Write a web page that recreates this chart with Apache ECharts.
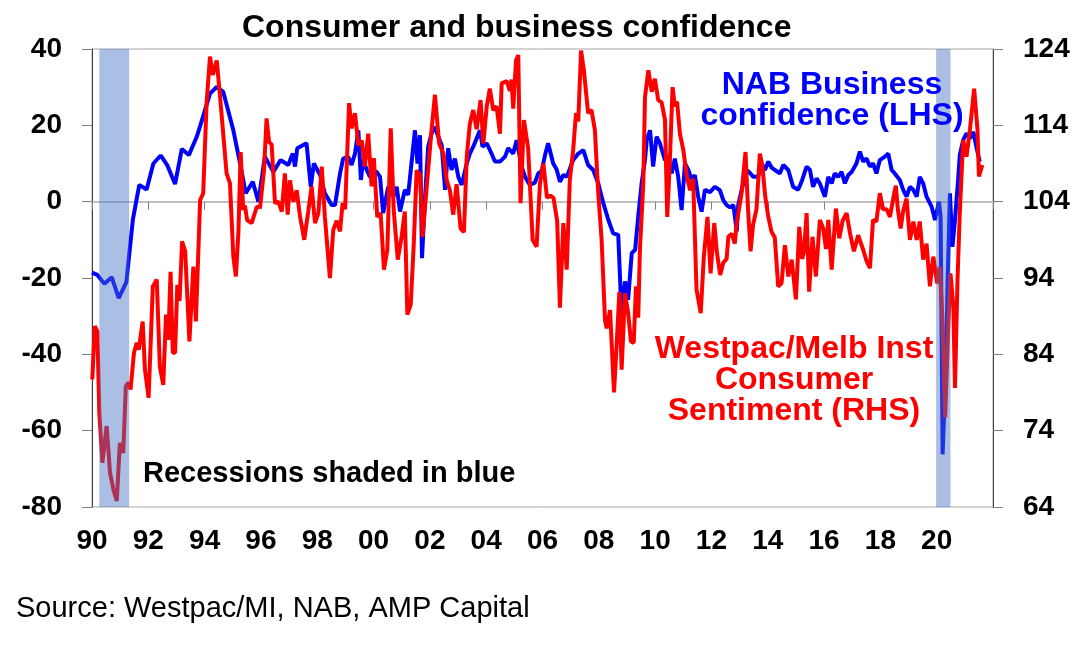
<!DOCTYPE html>
<html>
<head>
<meta charset="utf-8">
<title>Consumer and business confidence</title>
<script src="https://cdn.jsdelivr.net/npm/echarts@6/dist/echarts.min.js"></script>
<style>
  html, body { margin: 0; padding: 0; background: #fff; }
  #container { width: 1082px; height: 645px; }
</style>
</head>
<body>
<div id="container"></div>
<script>
// NAB business confidence (LHS)
var nabYears = [1990.00,1990.19,1990.44,1990.70,1990.95,1991.22,1991.45,1991.68,1991.94,1992.18,1992.44,1992.67,1992.95,1993.19,1993.44,1993.72,1993.95,1994.19,1994.43,1994.66,1995.02,1995.26,1995.46,1995.71,1995.91,1996.14,1996.44,1996.70,1996.97,1997.13,1997.21,1997.29,1997.62,1997.77,1997.88,1998.10,1998.27,1998.51,1998.63,1998.81,1998.92,1999.10,1999.22,1999.34,1999.46,1999.55,1999.63,1999.76,1999.87,2000.09,2000.23,2000.34,2000.52,2000.70,2000.82,2000.94,2001.11,2001.23,2001.47,2001.56,2001.65,2001.72,2001.83,2001.94,2002.06,2002.18,2002.30,2002.42,2002.54,2002.65,2002.77,2002.89,2003.01,2003.13,2003.31,2003.42,2003.54,2003.78,2003.87,2004.02,2004.19,2004.31,2004.49,2004.67,2004.78,2004.96,2005.08,2005.26,2005.38,2005.55,2005.73,2005.85,2005.97,2006.09,2006.20,2006.38,2006.50,2006.62,2006.74,2006.86,2007.09,2007.27,2007.45,2007.62,2007.80,2007.98,2008.16,2008.34,2008.51,2008.69,2008.81,2008.93,2009.04,2009.17,2009.29,2009.40,2009.52,2009.64,2009.70,2009.82,2009.93,2010.05,2010.17,2010.35,2010.47,2010.59,2010.70,2010.82,2010.94,2011.06,2011.18,2011.30,2011.41,2011.53,2011.65,2011.77,2011.95,2012.12,2012.30,2012.42,2012.54,2012.66,2012.78,2012.90,2012.95,2013.07,2013.25,2013.37,2013.48,2013.66,2013.78,2013.90,2014.02,2014.13,2014.25,2014.43,2014.55,2014.73,2014.90,2015.08,2015.20,2015.38,2015.50,2015.61,2015.73,2015.85,2016.03,2016.15,2016.27,2016.38,2016.50,2016.62,2016.74,2016.86,2016.98,2017.15,2017.27,2017.39,2017.51,2017.63,2017.74,2017.86,2017.98,2018.16,2018.28,2018.40,2018.51,2018.69,2018.81,2018.93,2019.05,2019.17,2019.29,2019.40,2019.52,2019.64,2019.82,2019.94,2020.08,2020.14,2020.21,2020.33,2020.39,2020.47,2020.56,2020.65,2020.76,2020.82,2020.94,2021.06,2021.18,2021.30,2021.42,2021.53];
var nabValues = [-18.6,-19.2,-21.5,-19.8,-25.3,-21.1,-4.8,4.4,3.2,10.0,12.1,9.6,4.6,13.8,12.2,17.0,22.4,28.3,30.1,28.8,18.7,10.0,2.2,5.2,0.0,11.8,7.8,10.9,9.6,12.6,9.2,14.0,15.3,3.9,10.0,7.0,2.2,-0.9,-0.9,7.4,11.3,11.8,9.6,12.6,18.7,5.7,10.9,8.3,6.5,8.0,6.5,-3.0,3.9,1.3,3.9,-2.6,3.1,1.8,18.7,10.0,17.4,-14.8,1.3,14.4,17.9,19.6,17.0,14.8,3.1,14.0,8.3,11.3,6.5,4.4,10.0,12.6,14.4,18.7,14.4,15.3,12.6,10.5,10.5,11.8,14.0,12.6,16.1,9.2,6.5,4.4,5.0,7.4,8.0,12.2,15.3,10.0,8.5,5.2,7.0,6.5,10.9,12.6,13.5,9.6,8.3,4.8,-0.4,-4.8,-8.3,-8.7,-30.0,-20.9,-25.7,-13.5,-12.6,-3.9,4.8,10.9,16.1,18.7,9.2,17.0,15.3,10.9,11.8,7.4,11.3,6.5,-2.2,10.0,8.3,5.7,7.0,1.3,-2.6,3.1,2.5,3.9,3.0,0.4,-0.9,-1.5,-0.9,-7.8,-1.0,3.0,8.3,7.5,6.5,6.5,10.0,8.3,10.5,9.0,8.3,7.4,9.6,8.3,3.9,3.1,5.2,9.2,8.3,3.9,6.1,4.8,1.3,6.5,4.8,7.4,6.5,7.8,4.8,7.0,7.8,10.0,13.1,10.5,11.3,9.2,10.0,7.4,10.9,11.8,12.6,8.3,7.4,5.7,3.1,1.3,3.9,3.1,1.3,6.5,4.8,1.3,-1.3,-4.8,0.0,-3.9,-66.2,-43.0,-20.5,2.2,-11.8,-4.8,5.7,12.2,16.1,17.9,16.5,18.3,14.0,10.5];

// Westpac/Melbourne Institute consumer sentiment (RHS)
var wmiYears = [1990.01,1990.10,1990.19,1990.26,1990.37,1990.52,1990.64,1990.76,1990.88,1990.99,1991.11,1991.20,1991.29,1991.37,1991.49,1991.59,1991.66,1991.80,1991.88,1992.01,1992.16,1992.30,1992.41,1992.53,1992.63,1992.71,1992.79,1992.87,1992.95,1993.03,1993.11,1993.20,1993.31,1993.46,1993.60,1993.69,1993.84,1993.95,1994.07,1994.19,1994.29,1994.43,1994.55,1994.78,1994.90,1995.02,1995.11,1995.20,1995.28,1995.37,1995.43,1995.51,1995.67,1995.85,1995.97,1996.11,1996.20,1996.29,1996.38,1996.50,1996.62,1996.74,1996.85,1996.95,1997.03,1997.15,1997.27,1997.39,1997.54,1997.68,1997.80,1997.92,1998.04,1998.16,1998.27,1998.45,1998.57,1998.69,1998.81,1998.90,1998.99,1999.13,1999.22,1999.34,1999.46,1999.58,1999.69,1999.81,1999.93,2000.01,2000.13,2000.25,2000.37,2000.49,2000.61,2000.72,2000.86,2001.00,2001.11,2001.20,2001.32,2001.43,2001.53,2001.65,2001.74,2001.89,2002.06,2002.18,2002.33,2002.48,2002.60,2002.71,2002.83,2002.95,2003.09,2003.21,2003.31,2003.42,2003.54,2003.66,2003.80,2003.90,2004.02,2004.13,2004.25,2004.37,2004.49,2004.55,2004.73,2004.84,2004.90,2004.96,2005.06,2005.14,2005.22,2005.34,2005.49,2005.65,2005.79,2005.91,2006.03,2006.16,2006.28,2006.39,2006.52,2006.62,2006.74,2006.86,2006.97,2007.09,2007.19,2007.27,2007.37,2007.47,2007.54,2007.62,2007.74,2007.86,2007.98,2008.10,2008.22,2008.28,2008.40,2008.54,2008.63,2008.73,2008.81,2008.93,2009.04,2009.14,2009.24,2009.32,2009.40,2009.46,2009.58,2009.64,2009.76,2009.88,2009.99,2010.11,2010.23,2010.35,2010.43,2010.52,2010.62,2010.70,2010.78,2010.88,2011.00,2011.12,2011.24,2011.35,2011.47,2011.62,2011.73,2011.86,2011.97,2012.10,2012.19,2012.31,2012.42,2012.54,2012.60,2012.72,2012.83,2012.89,2013.07,2013.21,2013.30,2013.39,2013.48,2013.60,2013.72,2013.81,2013.91,2014.02,2014.13,2014.25,2014.37,2014.49,2014.61,2014.73,2014.85,2015.00,2015.12,2015.22,2015.29,2015.38,2015.47,2015.59,2015.71,2015.85,2015.97,2016.07,2016.15,2016.27,2016.42,2016.54,2016.66,2016.80,2016.92,2017.06,2017.21,2017.39,2017.51,2017.63,2017.74,2017.86,2017.98,2018.10,2018.22,2018.34,2018.49,2018.55,2018.62,2018.72,2018.81,2018.93,2019.05,2019.17,2019.29,2019.40,2019.52,2019.64,2019.76,2019.88,2020.02,2020.11,2020.21,2020.30,2020.41,2020.49,2020.59,2020.65,2020.74,2020.82,2020.94,2021.06,2021.18,2021.33,2021.45,2021.50,2021.62];
var wmiValues = [80.7,87.7,87.0,76.3,69.8,74.6,68.5,66.3,64.8,72.4,71.1,79.8,80.3,79.4,84.2,85.5,84.6,88.3,82.0,78.3,92.9,93.8,82.4,80.0,89.2,85.9,94.8,84.2,84.2,93.1,91.0,98.8,97.5,85.7,95.5,88.3,104.2,105.1,116.9,123.0,120.6,122.5,117.7,107.7,106.4,96.8,94.2,100.0,110.5,102.9,103.5,101.6,101.2,103.3,103.3,108.1,114.9,111.8,111.5,103.8,104.0,102.7,107.7,102.3,106.8,104.0,105.5,102.0,99.0,102.7,106.0,101.2,102.5,108.6,102.0,94.0,100.3,101.5,100.1,103.8,103.0,116.9,113.6,115.6,111.4,112.0,108.6,112.9,106.0,109.7,102.0,102.5,95.1,97.7,113.6,102.7,96.4,99.5,102.7,89.2,90.5,98.6,108.1,107.5,99.4,106.0,113.4,118.0,111.6,110.3,106.8,105.5,102.3,106.3,100.5,100.0,109.9,114.2,116.0,113.5,117.3,111.6,116.5,118.8,116.0,116.5,112.9,119.5,119.8,118.5,120.0,116.2,122.5,123.2,103.8,114.7,111.0,99.0,98.1,106.4,109.0,104.5,104.8,104.5,101.5,90.1,101.2,95.1,106.8,110.8,115.6,114.5,123.8,121.2,121.0,115.6,116.0,113.4,105.1,99.0,88.5,87.4,89.8,79.0,85.0,92.2,82.0,92.0,89.5,85.7,85.5,92.9,88.8,97.7,106.4,117.7,121.2,118.4,120.1,117.3,117.0,114.7,102.0,109.0,119.0,116.5,117.1,112.9,110.8,107.5,105.5,107.0,92.5,89.4,96.8,102.0,94.6,101.2,97.5,94.4,96.0,96.5,99.4,99.8,98.5,101.0,105.1,110.5,103.0,97.5,101.0,103.0,110.3,108.7,104.7,102.0,100.1,99.3,92.9,93.3,98.3,94.2,96.4,91.2,100.7,96.5,97.5,102.5,92.2,99.4,94.2,101.6,100.5,97.8,101.6,95.1,103.1,99.2,101.5,102.5,99.9,97.5,99.6,97.7,96.2,95.3,101.6,101.4,105.1,103.0,103.0,102.0,105.1,106.1,103.0,100.5,102.8,104.4,99.0,101.4,99.0,101.4,96.4,98.5,92.9,96.8,93.3,95.5,88.1,75.7,87.7,94.6,90.3,79.6,93.8,102.5,112.1,109.9,113.4,118.8,113.4,107.3,108.8];

// recessions (shaded)
var recessionStarts = [1990.26, 2019.98];
var recessionEnds = [1991.32, 2020.49];

// axes
var yearMin = 1990, yearMax = 2022, yearStep = 2;
var lhsMin = -80, lhsMax = 40, lhsStep = 20;
var rhsMin = 64, rhsMax = 124, rhsStep = 10;

var FONT = '"Liberation Sans", Arial, sans-serif';

function pairs(xs, ys) {
    return xs.map(function(x, i) { return [x, ys[i]]; });
}

var dom = document.getElementById('container');
var myChart = echarts.init(dom, null, { renderer: 'canvas' });

var axisLabelStyle = {
    fontSize: 28,
    fontWeight: 'bold',
    color: '#000',
    fontFamily: FONT
};

myChart.setOption({
    animation: false,
    backgroundColor: '#fff',
    title: {
        text: 'Consumer and business confidence',
        left: 242,
        top: 12,
        padding: 0,
        textStyle: { fontSize: 32, fontWeight: 'bold', color: '#000', fontFamily: FONT }
    },
    grid: {
        left: 92, right: 89, top: 49, bottom: 138,
        show: true, borderColor: '#a6a6a6', borderWidth: 1
    },
    xAxis: [{
        type: 'value',
        min: yearMin, max: yearMax, interval: yearStep,
        position: 'bottom',
        axisLine: { show: false, onZero: false },
        axisTick: { show: false },
        splitLine: { show: false },
        axisLabel: Object.assign({
            margin: 20,
            showMaxLabel: false,
            formatter: function(v) {
                if (v >= yearMax) return '';
                return String(v).slice(2);
            }
        }, axisLabelStyle)
    }, {
        // zero line with the year ticks on it
        type: 'value',
        min: yearMin, max: yearMax, interval: yearStep,
        position: 'bottom',
        axisLine: { show: true, onZero: true, onZeroAxisIndex: 0, lineStyle: { color: '#bfbfbf', width: 2 } },
        axisTick: { show: true, length: 8, lineStyle: { color: '#808080', width: 1 } },
        axisLabel: { show: false },
        splitLine: { show: false }
    }],
    yAxis: [{
        type: 'value',
        min: lhsMin, max: lhsMax, interval: lhsStep,
        position: 'left',
        axisLine: { show: true, onZero: false, lineStyle: { color: '#404040', width: 1 } },
        axisTick: { show: true, length: 10, lineStyle: { color: '#808080' } },
        splitLine: { show: false },
        axisLabel: Object.assign({ margin: 30 }, axisLabelStyle)
    }, {
        type: 'value',
        min: rhsMin, max: rhsMax, interval: rhsStep,
        position: 'right',
        axisLine: { show: true, onZero: false, lineStyle: { color: '#404040', width: 1 } },
        axisTick: { show: true, length: 10, lineStyle: { color: '#808080' } },
        splitLine: { show: false },
        axisLabel: Object.assign({ margin: 30 }, axisLabelStyle)
    }],
    series: [{
        name: 'NAB Business confidence (LHS)',
        type: 'line',
        xAxisIndex: 0,
        yAxisIndex: 0,
        data: pairs(nabYears, nabValues),
        showSymbol: false,
        lineStyle: { color: '#0000ff', width: 4 },
        itemStyle: { color: '#0000ff' },
        z: 2
    }, {
        name: 'Westpac/Melb Inst Consumer Sentiment (RHS)',
        type: 'line',
        xAxisIndex: 0,
        yAxisIndex: 1,
        data: pairs(wmiYears, wmiValues),
        showSymbol: false,
        lineStyle: { color: '#ff0000', width: 4 },
        itemStyle: { color: '#ff0000' },
        z: 3
    }, {
        name: 'Recessions',
        type: 'line',
        xAxisIndex: 0,
        yAxisIndex: 0,
        data: [],
        z: 10,
        markArea: {
            silent: true,
            z: 10,
            itemStyle: { color: 'rgba(68,114,196,0.45)' },
            data: recessionStarts.map(function(s, i) {
                return [{ xAxis: s }, { xAxis: recessionEnds[i] }];
            })
        }
    }],
    graphic: [{
        type: 'text',
        style: {
            x: 832, y: 101, text: 'NAB Business\nconfidence (LHS)',
            textAlign: 'center', textVerticalAlign: 'middle', align: 'center', verticalAlign: 'middle',
            fontSize: 32, fontWeight: 'bold', fontFamily: FONT, lineHeight: 31, fill: '#0000ff'
        },
        z: 20
    }, {
        type: 'text',
        style: {
            x: 794, y: 380, text: 'Westpac/Melb Inst\nConsumer\nSentiment (RHS)',
            textAlign: 'center', textVerticalAlign: 'middle', align: 'center', verticalAlign: 'middle',
            fontSize: 32, fontWeight: 'bold', fontFamily: FONT, lineHeight: 31, fill: '#ff0000'
        },
        z: 20
    }, {
        type: 'text',
        style: {
            x: 143, y: 474, text: 'Recessions shaded in blue',
            textAlign: 'left', textVerticalAlign: 'middle', align: 'left', verticalAlign: 'middle',
            fontSize: 29, fontWeight: 'bold', fontFamily: FONT, fill: '#000'
        },
        z: 20
    }, {
        type: 'text',
        style: {
            x: 16, y: 609, text: 'Source: Westpac/MI, NAB, AMP Capital',
            textAlign: 'left', textVerticalAlign: 'middle', align: 'left', verticalAlign: 'middle',
            fontSize: 29, fontWeight: 'normal', fontFamily: FONT, fill: '#000'
        },
        z: 20
    }]
});
</script>
</body>
</html>
